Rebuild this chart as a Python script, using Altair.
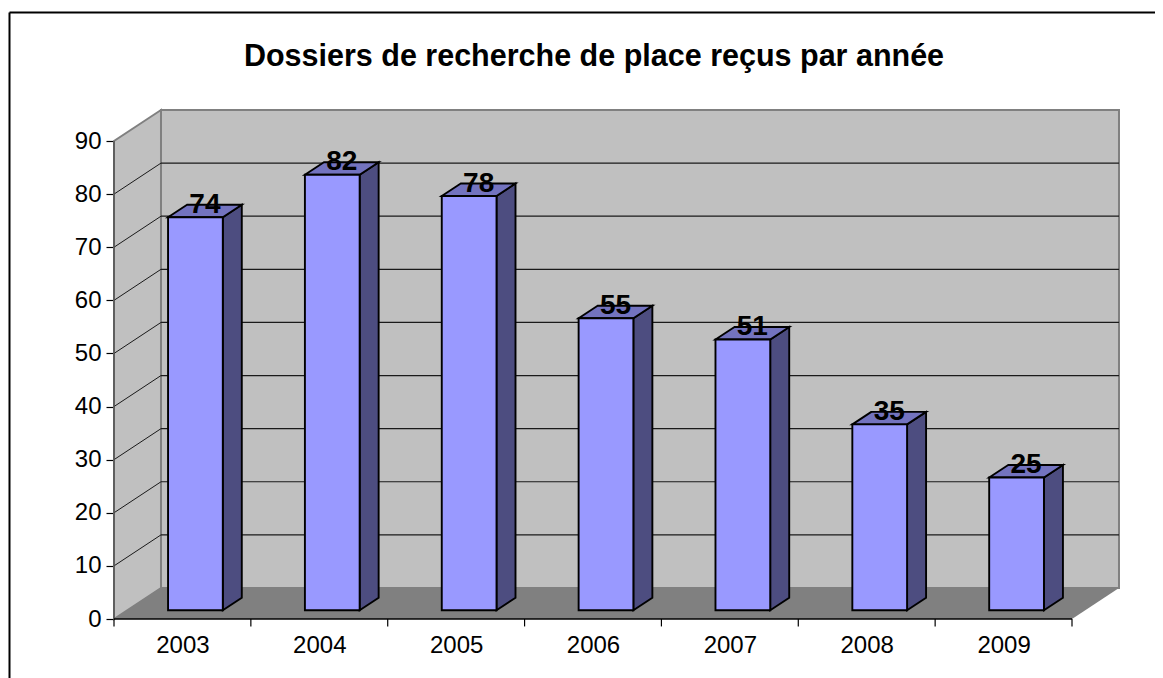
import altair as alt
import pandas as pd

TITLE = "Dossiers de recherche de place reçus par année"
YEARS = ["2003", "2004", "2005", "2006", "2007", "2008", "2009"]
VALUES = [74, 82, 78, 55, 51, 35, 25]
Y_TICKS = [0, 10, 20, 30, 40, 50, 60, 70, 80, 90]

FONT = "Liberation Sans"
DX, DY = 47 / 136.9, 31 / 5.31            # floor depth in axis units
BX, BY = 13 / 136.9, 8.7 / 5.31           # bar set-back from front
SX, SY = 19 / 136.9, 12.5 / 5.31          # bar depth
BAR_W, GAP = 0.4, 0.3
N = len(YEARS)

xs = alt.Scale(domain=[0, N], range=[106, 1064])
ys = alt.Scale(domain=[0, 90], range=[611, 133])

label_expr = "[" + ",".join(f"'{y}'" for y in YEARS) + "][floor(datum.value)]"
AXIS_X = alt.Axis(
    values=[i + 0.5 for i in range(N)], title=None, domain=False, grid=False, ticks=False,
    offset=-59, labelFont=FONT, labelFontSize=24, labelColor="#000000", labelPadding=14,
    labelExpr=label_expr, labelOverlap=False,
)
AXIS_Y = alt.Axis(
    values=Y_TICKS, title=None, domain=False, grid=False, offset=-106, tickSize=8,
    tickColor="#000000", tickWidth=1.2, labelFont=FONT, labelFontSize=24,
    labelColor="#000000", labelPadding=5, labelOverlap=False,
)


def X(f="x"):
    return alt.X(f"{f}:Q", scale=xs, axis=AXIS_X)


def Y(f="y"):
    return alt.Y(f"{f}:Q", scale=ys, axis=AXIS_Y)


back = alt.Chart(pd.DataFrame([{"x": DX, "x2": N + DX, "y": DY, "y2": 90 + DY}])).mark_rect(
    fill="#C0C0C0", stroke="#808080", strokeWidth=2
).encode(x=X(), x2="x2:Q", y=Y(), y2="y2:Q")

left = alt.Chart(pd.DataFrame([
    {"x": 0, "y": 0, "y2": 90}, {"x": DX, "y": DY, "y2": 90 + DY}
])).mark_area(fill="#C0C0C0", stroke="#808080", strokeWidth=2).encode(x=X(), y=Y(), y2="y2:Q")

floor = alt.Chart(pd.DataFrame([
    {"y": 0, "x": 0, "x2": N}, {"y": DY, "x": DX, "x2": N + DX}
])).mark_area(orient="horizontal", fill="#808080").encode(y=Y(), x=X(), x2="x2:Q")

grid = alt.Chart(pd.DataFrame(
    [{"v": v, "x": DX, "x2": N + DX, "y": v + DY} for v in Y_TICKS[1:-1]]
)).mark_rule(color="#1a1a1a", strokeWidth=1.2).encode(x=X(), x2="x2:Q", y=Y())

wall_rows = []
for v in Y_TICKS[1:-1]:
    wall_rows += [{"v": v, "x": 0, "y": v}, {"v": v, "x": DX, "y": v + DY}]
wall_lines = alt.Chart(pd.DataFrame(wall_rows)).mark_line(color="#1a1a1a", strokeWidth=1).encode(
    x=X(), y=Y(), detail="v:N"
)

base_line = alt.Chart(pd.DataFrame([{"x": 0, "x2": N, "y": 0}])).mark_rule(
    color="#000000", strokeWidth=1.5
).encode(x=X(), x2="x2:Q", y=Y())
x_ticks = alt.Chart(pd.DataFrame([{"x": i, "y": 0, "y2": -1.4} for i in range(N + 1)])).mark_rule(
    color="#000000", strokeWidth=1.2
).encode(x=X(), y=Y(), y2="y2:Q")
left_edge = alt.Chart(pd.DataFrame([{"x": 0, "y": 0, "y2": 90}])).mark_rule(
    color="#555555", strokeWidth=1.5
).encode(x=X(), y=Y(), y2="y2:Q")

# bars
front_rows, side_rows, top_rows, label_rows = [], [], [], []
for i, (yr, v) in enumerate(zip(YEARS, VALUES)):
    x0 = i + GAP + BX
    x1 = x0 + BAR_W
    front_rows.append({"x": x0, "x2": x1, "y": BY, "y2": BY + v})
    side_rows += [
        {"k": yr, "x": x1, "y": BY, "y2": BY + v},
        {"k": yr, "x": x1 + SX, "y": BY + SY, "y2": BY + v + SY},
    ]
    top_rows += [
        {"k": yr, "y": BY + v, "x": x0, "x2": x1},
        {"k": yr, "y": BY + v + SY, "x": x0 + SX, "x2": x1 + SX},
    ]
    label_rows.append({"x": (x0 + x1 + SX) / 2, "y": BY + v + SY, "t": str(v)})

BORDER = dict(stroke="#000000", strokeWidth=1.9, strokeJoin="miter")
side = alt.Chart(pd.DataFrame(side_rows)).mark_area(fill="#4D4D80", **BORDER).encode(
    x=X(), y=Y(), y2="y2:Q", detail="k:N"
)
top = alt.Chart(pd.DataFrame(top_rows)).mark_area(orient="horizontal", fill="#7373BF", **BORDER).encode(
    y=Y(), x=X(), x2="x2:Q", detail="k:N"
)
front = alt.Chart(pd.DataFrame(front_rows)).mark_rect(fill="#9999FF", **BORDER).encode(
    x=X(), x2="x2:Q", y=Y(), y2="y2:Q"
)
labels = alt.Chart(pd.DataFrame(label_rows)).mark_text(
    font=FONT, fontSize=28, fontWeight="bold", color="#000000", baseline="middle", align="center"
).encode(x=X(), y=Y(), text="t:N")

# frame and title
frame_top = alt.Chart(pd.DataFrame({"a": [0]})).mark_rule(color="#000000", strokeWidth=2).encode(
    x=alt.value(1.5), x2=alt.value(1147), y=alt.value(4.5)
)
frame_left = alt.Chart(pd.DataFrame({"a": [0]})).mark_rule(color="#000000", strokeWidth=2).encode(
    x=alt.value(1.5), y=alt.value(4.5), y2=alt.value(670)
)
title = alt.Chart(pd.DataFrame({"t": [TITLE]})).mark_text(
    font=FONT, fontSize=30.5, fontWeight="bold", color="#000000", align="center", baseline="middle"
).encode(x=alt.value(586), y=alt.value(49), text="t:N")

chart = alt.layer(
    back, left, floor, grid, wall_lines, left_edge, base_line, x_ticks,
    side, top, front, labels, frame_top, frame_left, title,
).properties(
    width=1147, height=670, padding=0, autosize=alt.AutoSizeParams(type="none"), background="#FFFFFF"
).configure_view(stroke=None)

chart.save("out.html", embed_options={"renderer": "svg", "actions": False})
